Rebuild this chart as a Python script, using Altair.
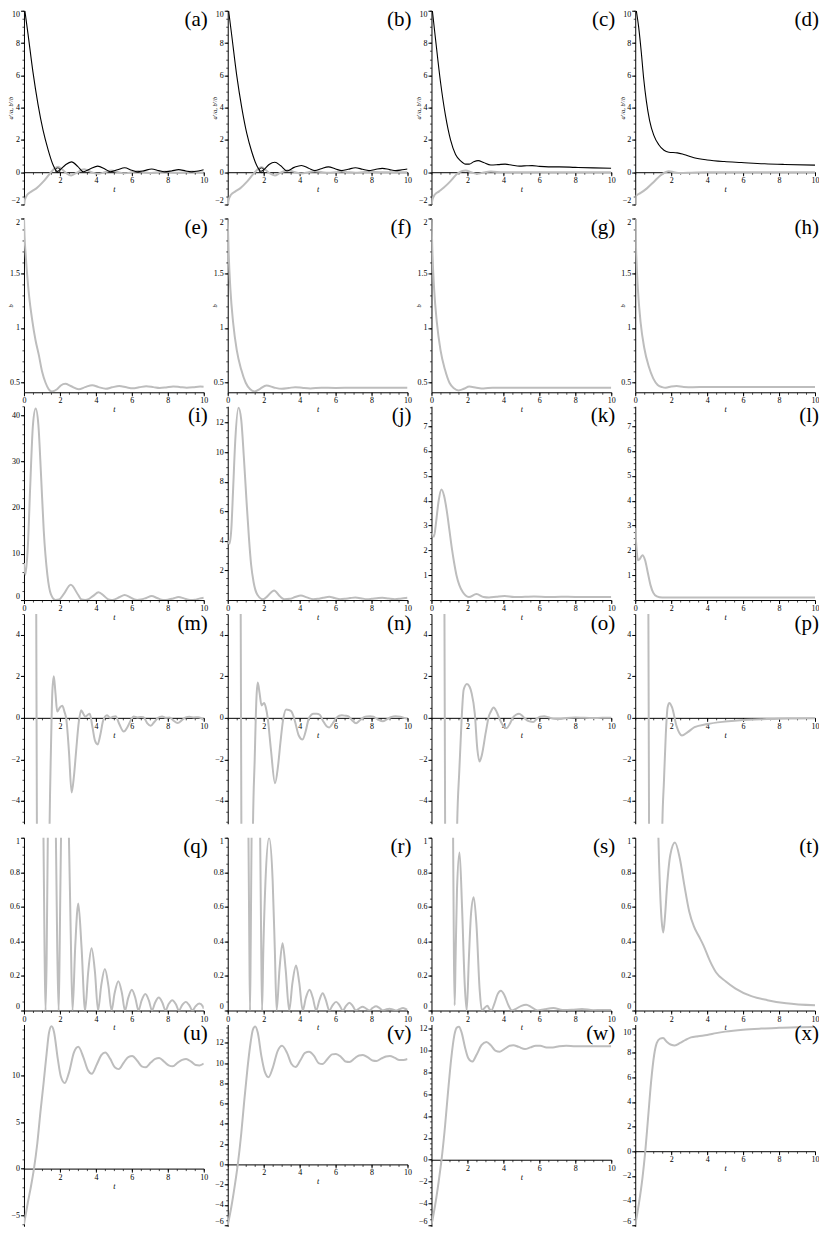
import altair as alt
import pandas as pd

# ---------------- data ----------------
# Row 1: a'/a (black) and b'/b (gray)
A_BLACK_T = [0.05,0.22,0.5,0.78,1.06,1.34,1.62,1.85,2.0,2.3,2.64,3.0,3.3,3.7,4.1,4.5,4.8,5.2,5.6,6.0,6.3,6.7,7.1,7.5,7.8,8.2,8.6,9.0,9.3,9.7,10.0]
A_BLACK_V = [10.0,8.6,6.2,4.2,2.6,1.4,0.45,0.05,0.15,0.45,0.64,0.35,0.03,0.22,0.38,0.2,0.03,0.15,0.28,0.12,0.03,0.1,0.2,0.1,0.03,0.08,0.16,0.08,0.03,0.08,0.15]
A_GRAY_T = [0.0,0.05,0.18,0.41,0.69,1.06,1.43,1.71,1.9,2.1,2.35,2.62,2.9,3.35,3.75,4.1,4.5,4.85,5.25,5.6,6.0,6.35,6.7,7.1,7.5,7.85,8.2,8.6,9.0,9.35,9.7,10.0]
A_GRAY_V = [-2.2,-1.7,-1.4,-1.2,-1.0,-0.6,-0.1,0.24,0.34,0.2,-0.05,-0.2,-0.05,0.18,0.0,-0.1,0.0,0.1,0.0,-0.07,0.0,0.07,0.0,-0.05,0.0,0.05,0.0,-0.04,0.0,0.04,0.0,-0.02]
A_MARK_T = [1.88]
A_MARK_V = [0.12]

B_BLACK_T = [0.05,0.22,0.5,0.78,1.06,1.34,1.62,1.85,2.0,2.3,2.62,2.95,3.3,3.7,4.1,4.5,4.85,5.2,5.6,6.0,6.35,6.7,7.1,7.5,7.85,8.2,8.6,9.0,9.35,9.7,10.0]
B_BLACK_V = [10.0,8.5,6.0,4.0,2.4,1.25,0.4,0.06,0.15,0.48,0.62,0.4,0.08,0.3,0.42,0.25,0.1,0.22,0.33,0.2,0.1,0.18,0.28,0.18,0.1,0.17,0.24,0.16,0.1,0.15,0.2]
B_GRAY_T = [0.0,0.05,0.18,0.41,0.69,1.06,1.43,1.71,1.9,2.1,2.35,2.62,2.9,3.35,3.75,4.1,4.5,4.85,5.25,5.6,6.0,6.35,6.7,7.1,7.5,7.85,8.5,10.0]
B_GRAY_V = [-2.2,-1.7,-1.4,-1.2,-1.0,-0.6,-0.1,0.22,0.3,0.15,-0.08,-0.2,-0.05,0.12,0.0,-0.08,0.0,0.06,0.0,-0.04,0.0,0.04,0.0,-0.03,0.0,0.02,0.0,0.0]
B_MARK_T = [1.88]
B_MARK_V = [0.12]

C_BLACK_T = [0.05,0.22,0.5,0.78,1.06,1.34,1.62,1.9,2.1,2.35,2.6,2.9,3.3,3.7,4.1,4.5,4.9,5.3,5.6,6.0,6.5,7.1,8.0,9.0,10.0]
C_BLACK_V = [10.0,8.3,5.6,3.5,2.0,1.1,0.7,0.5,0.5,0.65,0.72,0.6,0.45,0.47,0.5,0.43,0.38,0.4,0.41,0.36,0.33,0.33,0.3,0.27,0.25]
C_GRAY_T = [0.0,0.05,0.18,0.41,0.69,1.06,1.43,1.71,1.9,2.2,2.55,2.9,3.3,4.0,5.0,10.0]
C_GRAY_V = [-2.2,-1.7,-1.4,-1.2,-0.95,-0.55,-0.1,0.08,0.1,0.0,-0.1,-0.02,0.04,0.0,0.0,0.0]

D_BLACK_T = [0.06,0.19,0.34,0.47,0.62,0.8,1.03,1.31,1.6,1.87,2.34,2.7,3.27,4.0,4.95,5.9,7.2,8.3,10.0]
D_BLACK_V = [10.0,9.0,7.4,5.8,4.4,3.2,2.3,1.7,1.36,1.24,1.2,1.1,0.9,0.76,0.66,0.6,0.52,0.48,0.44]
D_GRAY_T = [0.0,0.06,0.28,0.65,1.03,1.4,1.68,1.87,2.15,2.5,3.1,4.0,10.0]
D_GRAY_V = [-2.2,-1.45,-1.3,-1.0,-0.6,-0.2,0.0,0.06,0.0,-0.05,-0.03,0.0,0.0]

# Row 2: b
E_T = [0,0.03,0.09,0.18,0.28,0.46,0.64,0.83,1.01,1.2,1.38,1.55,1.84,2.05,2.3,2.6,3.05,3.4,3.8,4.15,4.55,4.9,5.3,5.7,6.05,6.4,6.8,7.2,7.55,7.9,8.3,8.7,9.05,9.4,9.8,10.0]
E_V = [2.02,1.85,1.68,1.48,1.3,1.07,0.89,0.75,0.6,0.5,0.44,0.42,0.44,0.475,0.49,0.47,0.44,0.46,0.478,0.46,0.445,0.458,0.47,0.458,0.45,0.458,0.468,0.46,0.452,0.457,0.466,0.46,0.455,0.458,0.465,0.463]
F_T = [0,0.05,0.15,0.3,0.5,0.75,1.0,1.25,1.5,1.8,2.15,2.6,3.0,3.4,3.75,4.2,4.6,5.2,6.0,7.0,8.0,9.0,10.0]
F_V = [2.0,1.7,1.35,1.05,0.8,0.62,0.5,0.44,0.42,0.445,0.475,0.455,0.445,0.452,0.46,0.452,0.448,0.455,0.452,0.455,0.455,0.455,0.455]
G_T = [0,0.05,0.15,0.3,0.5,0.75,1.0,1.25,1.5,1.8,2.1,2.5,2.9,3.4,4.0,5.0,6.0,8.0,10.0]
G_V = [2.0,1.7,1.35,1.05,0.8,0.62,0.5,0.45,0.43,0.445,0.465,0.455,0.448,0.455,0.455,0.455,0.455,0.455,0.455]
H_T = [0,0.05,0.15,0.3,0.5,0.75,1.0,1.25,1.5,1.7,2.0,2.3,2.7,3.2,4.0,6.0,8.0,10.0]
H_V = [2.0,1.7,1.35,1.05,0.82,0.65,0.54,0.48,0.46,0.455,0.465,0.47,0.462,0.46,0.461,0.461,0.461,0.461]

# Row 3
I_T = [0,0.08,0.22,0.35,0.5,0.65,0.8,0.95,1.1,1.3,1.5,1.75,1.95,2.2,2.6,3.0,3.2,3.4,3.6,3.85,4.15,4.45,4.7,4.85,5.05,5.3,5.6,5.9,6.15,6.3,6.5,6.8,7.1,7.4,7.65,7.8,8.0,8.3,8.6,8.9,9.15,9.3,9.5,9.75,10.0]
I_V = [8.0,5.5,12.0,25.0,38.0,41.5,38.0,27.0,15.0,5.5,1.2,0.0,0.1,1.2,3.3,1.2,0.1,0.0,0.2,0.9,1.7,0.9,0.1,0.0,0.15,0.6,1.1,0.6,0.1,0.0,0.1,0.45,0.85,0.45,0.08,0.0,0.08,0.35,0.65,0.35,0.06,0.0,0.06,0.3,0.5]
J_T = [0,0.1,0.2,0.3,0.42,0.6,0.75,0.9,1.05,1.18,1.3,1.44,1.65,1.95,2.2,2.58,2.9,3.15,3.45,3.75,4.07,4.4,4.75,5.0,5.3,5.65,5.95,6.25,6.5,6.8,7.1,7.4,7.75,8.0,8.3,8.6,8.95,9.3,9.6,10.0]
J_V = [4.0,3.8,4.8,7.5,10.8,13.0,12.2,9.6,6.6,4.2,2.4,1.2,0.35,0.05,0.25,0.65,0.25,0.05,0.08,0.2,0.3,0.18,0.06,0.08,0.15,0.22,0.13,0.06,0.08,0.13,0.17,0.12,0.06,0.08,0.12,0.15,0.1,0.06,0.09,0.15]
K_T = [0,0.14,0.25,0.4,0.55,0.7,0.87,1.0,1.13,1.26,1.39,1.55,1.73,1.9,2.08,2.5,2.9,3.2,3.6,4.07,4.6,5.2,5.7,6.5,7.2,8.0,9.0,10.0]
K_V = [2.7,2.55,3.1,4.0,4.45,4.2,3.5,2.8,2.1,1.5,1.0,0.6,0.33,0.18,0.12,0.24,0.12,0.1,0.13,0.16,0.12,0.13,0.14,0.12,0.13,0.125,0.125,0.125]
L_T = [0,0.08,0.15,0.25,0.4,0.55,0.7,0.85,1.0,1.2,1.5,2.0,3.0,5.0,10.0]
L_V = [2.9,2.0,1.6,1.65,1.8,1.6,1.1,0.6,0.3,0.15,0.1,0.1,0.1,0.1,0.1]

# Row 4
M_T = [0,0.6,0.68,0.72,0.8,1.3,1.42,1.5,1.58,1.66,1.75,1.85,2.0,2.13,2.25,2.36,2.5,2.65,2.78,2.9,3.05,3.18,3.3,3.42,3.55,3.66,3.8,3.95,4.1,4.25,4.4,4.62,4.8,4.95,5.1,5.3,5.55,5.75,5.95,6.1,6.3,6.5,6.65,6.85,7.05,7.25,7.45,7.68,7.9,8.1,8.3,8.55,8.8,9.0,9.2,9.45,9.7,9.85,10.0]
M_V = [30,20,5.5,-5.5,-20,-20,-5.5,-1.5,1.3,2.0,1.2,0.3,0.5,0.58,0.3,-0.1,-1.6,-3.6,-2.8,-1.6,-0.2,0.36,0.2,0.05,0.15,0.2,-0.4,-1.1,-1.28,-0.8,-0.15,0.12,0.0,0.05,0.08,-0.3,-0.66,-0.45,-0.1,0.07,0.02,0.04,0.03,-0.25,-0.38,-0.2,0.0,0.07,0.0,0.02,-0.12,-0.25,-0.1,0.02,0.05,0.02,0.03,-0.02,-0.1]
N_T = [0,0.65,0.72,0.76,0.85,1.3,1.4,1.5,1.6,1.67,1.77,1.88,2.02,2.12,2.23,2.4,2.63,2.8,2.93,3.08,3.25,3.4,3.54,3.65,3.75,3.95,4.16,4.35,4.5,4.65,4.77,4.95,5.12,5.3,5.5,5.65,5.85,6.0,6.2,6.35,6.55,6.7,6.9,7.14,7.35,7.58,7.75,7.93,8.1,8.35,8.63,8.85,9.07,9.33,9.6,9.8,10.0]
N_V = [30,20,5.5,-5.5,-20,-20,-5.5,-2.0,1.0,1.7,1.2,0.6,0.72,0.5,-0.05,-1.5,-3.15,-2.3,-1.2,-0.1,0.4,0.38,0.31,0.1,-0.2,-0.85,-1.04,-0.6,-0.05,0.15,0.2,0.2,0.15,-0.15,-0.4,-0.46,-0.25,-0.05,0.1,0.12,0.1,0.08,-0.1,-0.26,-0.12,0.03,0.07,0.08,0.05,-0.08,-0.17,-0.07,0.03,0.08,0.05,0.0,-0.05]
O_T = [0,0.65,0.72,0.76,0.85,1.3,1.42,1.55,1.68,1.79,1.97,2.12,2.23,2.41,2.55,2.67,2.8,3.02,3.2,3.29,3.46,3.62,3.81,4.0,4.17,4.35,4.52,4.7,4.87,5.05,5.22,5.45,5.66,5.85,6.05,6.27,6.5,6.8,7.1,7.5,8.0,8.5,9.0,9.5,10.0]
O_V = [30,20,5.5,-5.5,-20,-20,-5.5,-2.5,0.0,1.35,1.63,1.5,1.2,0.2,-1.5,-2.1,-1.8,-0.7,0.1,0.28,0.5,0.3,-0.1,-0.4,-0.5,-0.3,0.0,0.15,0.2,0.1,-0.05,-0.17,-0.2,-0.05,0.05,0.08,0.03,-0.05,-0.06,-0.01,0.02,0.0,-0.01,0.0,0.0]
P_T = [0,0.65,0.73,0.77,0.85,1.35,1.5,1.6,1.7,1.8,1.9,2.05,2.3,2.6,2.9,3.3,4.0,5.0,6.0,7.0,8.0,9.0,10.0]
P_V = [30,20,5.5,-5.5,-20,-20,-5.5,-3.0,-0.8,0.5,0.72,0.5,-0.4,-0.85,-0.7,-0.45,-0.3,-0.18,-0.1,-0.07,-0.04,-0.03,-0.02]

# Row 5
Q_T = [0,1.0,1.08,1.15,1.2,1.26,1.33,1.45,1.55,1.67,1.77,1.86,1.93,1.99,2.06,2.3,2.5,2.6,2.7,2.85,3.02,3.2,3.4,3.57,3.76,3.95,4.12,4.29,4.5,4.7,4.87,5.04,5.25,5.45,5.62,5.79,6.0,6.2,6.37,6.54,6.75,6.95,7.12,7.29,7.5,7.7,7.87,8.04,8.25,8.45,8.62,8.79,9.0,9.2,9.37,9.54,9.75,9.95,10.0]
Q_V = [20,3.0,1.05,0.3,0.0,0.3,1.05,3.0,3.5,3.0,1.05,0.3,0.0,0.4,1.0,1.45,1.0,0.45,0.0,0.37,0.62,0.37,0.0,0.22,0.36,0.22,0.0,0.14,0.24,0.14,0.0,0.1,0.17,0.1,0.0,0.07,0.12,0.07,0.0,0.057,0.095,0.057,0.0,0.045,0.075,0.045,0.0,0.036,0.06,0.036,0.0,0.03,0.05,0.03,0.0,0.024,0.04,0.024,0.01]
R_T = [0,1.05,1.15,1.2,1.24,1.28,1.33,1.45,1.57,1.7,1.8,1.86,1.91,1.98,2.1,2.3,2.5,2.62,2.72,2.88,3.05,3.22,3.42,3.6,3.8,3.98,4.17,4.35,4.55,4.73,4.92,5.1,5.28,5.46,5.65,5.83,6.03,6.22,6.4,6.58,6.77,6.95,7.13,7.32,7.5,7.68,7.88,8.06,8.25,8.43,8.62,8.8,9.0,9.18,9.37,9.55,9.75,9.92,10.0]
R_V = [20,3.0,1.05,0.4,0.0,0.4,1.05,1.6,1.75,1.5,1.05,0.4,0.0,0.35,0.75,1.0,0.75,0.35,0.0,0.24,0.39,0.24,0.0,0.16,0.26,0.16,0.0,0.075,0.12,0.075,0.0,0.06,0.1,0.06,0.0,0.03,0.05,0.03,0.0,0.027,0.045,0.027,0.0,0.013,0.022,0.013,0.0,0.015,0.025,0.015,0.0,0.006,0.01,0.006,0.0,0.008,0.014,0.008,0.005]
S_T = [0,1.1,1.2,1.25,1.29,1.34,1.42,1.56,1.7,1.85,1.96,2.08,2.2,2.35,2.5,2.68,2.8,2.95,3.11,3.22,3.33,3.5,3.68,3.86,4.05,4.28,4.48,4.7,5.0,5.27,5.55,5.9,6.3,6.78,7.3,7.8,8.37,9.0,9.5,10.0]
S_V = [20,3.0,1.05,0.3,0.03,0.3,0.7,0.915,0.6,0.15,0.0,0.3,0.56,0.656,0.5,0.12,0.0,0.015,0.027,0.01,0.0,0.04,0.095,0.114,0.09,0.03,0.0,0.01,0.027,0.033,0.02,0.0,0.008,0.014,0.003,0.004,0.009,0.002,0.003,0.003]
TT_T = [0,1.2,1.29,1.38,1.47,1.56,1.66,1.77,1.95,2.21,2.48,2.74,3.0,3.27,3.54,3.8,4.16,4.5,5.04,5.58,6.46,7.35,8.4,10.0]
TT_V = [20,1.6,1.0,0.7,0.52,0.452,0.55,0.72,0.9,0.973,0.88,0.72,0.575,0.485,0.43,0.376,0.286,0.22,0.168,0.127,0.083,0.06,0.042,0.03]

# Row 6
U_T = [0,0.21,0.39,0.56,0.74,0.91,1.09,1.26,1.39,1.53,1.67,1.88,2.05,2.27,2.5,2.78,3.02,3.3,3.55,3.77,4.05,4.3,4.52,4.8,5.05,5.27,5.55,5.8,6.02,6.3,6.55,6.77,7.05,7.3,7.52,7.8,8.05,8.27,8.55,8.8,9.02,9.3,9.55,9.77,10.0]
U_V = [-6.0,-3.7,-1.9,0.05,2.7,6.0,9.2,12.4,14.6,15.3,14.7,11.8,9.9,9.2,10.3,12.5,13.1,12.0,10.6,10.2,11.2,12.2,12.5,11.8,10.9,10.7,11.4,12.0,12.1,11.6,11.0,10.9,11.4,11.8,11.9,11.5,11.1,11.0,11.4,11.7,11.8,11.5,11.15,11.1,11.3]
V_T = [0,0.2,0.4,0.56,0.75,0.92,1.1,1.27,1.4,1.53,1.67,1.88,2.05,2.27,2.5,2.78,3.02,3.3,3.55,3.77,4.05,4.3,4.52,4.8,5.05,5.27,5.55,5.8,6.02,6.3,6.55,6.77,7.05,7.3,7.52,7.8,8.05,8.27,8.55,8.8,9.02,9.3,9.55,9.77,10.0]
V_V = [-6.0,-4.2,-2.0,0.0,3.0,6.3,9.5,12.0,13.3,13.6,13.0,10.6,9.2,8.6,9.5,11.2,11.7,11.0,9.9,9.6,10.3,11.0,11.1,10.7,10.0,9.9,10.4,10.85,10.9,10.6,10.15,10.1,10.45,10.75,10.8,10.55,10.25,10.2,10.45,10.65,10.7,10.5,10.3,10.3,10.4]
W_T = [0,0.2,0.4,0.56,0.75,0.92,1.1,1.27,1.4,1.53,1.67,1.88,2.05,2.27,2.5,2.78,3.05,3.3,3.55,3.8,4.1,4.35,4.55,4.85,5.2,5.5,5.8,6.05,6.4,6.75,7.1,7.5,8.0,8.5,9.0,9.5,10.0]
W_V = [-6.0,-4.2,-2.0,0.0,3.0,6.2,9.3,11.4,12.1,12.2,11.7,10.2,9.3,9.0,9.6,10.5,10.8,10.5,10.0,9.9,10.2,10.45,10.5,10.35,10.15,10.3,10.45,10.45,10.3,10.3,10.4,10.45,10.4,10.4,10.4,10.4,10.4]
X_T = [0,0.2,0.4,0.56,0.72,0.88,1.05,1.2,1.38,1.55,1.75,2.0,2.2,2.5,2.8,3.1,3.5,4.0,4.5,5.0,6.0,7.0,8.0,9.0,10.0]
X_V = [-6.0,-4.3,-2.2,0.0,2.8,5.6,7.8,8.8,9.15,9.2,8.9,8.65,8.6,8.8,9.05,9.25,9.35,9.45,9.6,9.72,9.88,9.97,10.03,10.08,10.1]

# ---------------- styling ----------------
SERIF = "Liberation Serif"
GRAY = "#bdbdbd"
X_ALL = [0, 2, 4, 6, 8, 10]
X_NOZERO = [2, 4, 6, 8, 10]


def steps(lo, hi, step):
    n = int(round((hi - lo) / step))
    return [round(lo + k * step, 4) for k in range(n + 1)]


X_MINOR = steps(0, 10, 0.5)


def panel(label, lines, ydom, yticks, ystep, w, h, x_at_zero, ytitle=None, marks=None):
    ymin, ymax = ydom
    frames, names, colors, widths = [], [], [], []
    for k, (t, v, color, width) in enumerate(lines):
        frames.append(pd.DataFrame({"t": t, "v": v, "s": "s%d" % k}))
        names.append("s%d" % k)
        colors.append(color)
        widths.append(width)
    df = pd.concat(frames, ignore_index=True)

    xs = alt.Scale(domain=[0, 10], nice=False, zero=False)
    ys = alt.Scale(domain=[ymin, ymax], nice=False, zero=False)
    # distance that moves the t axis up from the bottom edge to the line v = 0
    xoff = -h * (0 - ymin) / (ymax - ymin) if x_at_zero else 0
    xax = dict(values=X_NOZERO if x_at_zero else X_ALL, orient="bottom", offset=xoff,
               format="~f", title="t", titleFont=SERIF, titleFontStyle="italic",
               titleFontWeight="normal", titleFontSize=8, titlePadding=1, labelFont=SERIF,
               labelFontSize=8, labelPadding=1, tickSize=3.5, domainColor="black",
               tickColor="black", labelColor="black", titleColor="black", grid=False,
               labelFlush=False, labelOverlap=False)
    yax = dict(values=yticks, orient="left", format="~f", labelFont=SERIF, labelFontSize=8,
               labelPadding=1, tickSize=3.5, domainColor="black", tickColor="black",
               labelColor="black", grid=False, labelFlush=4, labelOverlap=False)
    if ytitle:
        yax.update(title=ytitle, titleFont=SERIF, titleFontStyle="italic",
                   titleFontWeight="normal", titleFontSize=6.5, titleColor="black",
                   titleX=-10)
    else:
        yax.update(title=None)
    minor_common = dict(labels=False, domain=False, grid=False, tickSize=2, tickWidth=0.7,
                        tickColor="black", title=None)
    xminor = dict(values=X_MINOR, orient="bottom", offset=xoff, **minor_common)
    lo = ystep * int(ymin / ystep)
    yminor = dict(values=[v for v in steps(lo, ymax, ystep) if ymin <= v <= ymax],
                  orient="left", **minor_common)

    lines_layer = alt.Chart(df).mark_line(clip=True, interpolate="monotone").encode(
        x=alt.X("t:Q", scale=xs, axis=alt.Axis(**xax)),
        y=alt.Y("v:Q", scale=ys, axis=alt.Axis(**yax)),
        color=alt.Color("s:N", scale=alt.Scale(domain=names, range=colors), legend=None),
        strokeWidth=alt.StrokeWidth("s:N", scale=alt.Scale(domain=names, range=widths),
                                    legend=None),
    )
    minor_layer = alt.Chart(df).mark_line(clip=True, opacity=0).encode(
        x=alt.X("t:Q", scale=xs, axis=alt.Axis(**xminor)),
        y=alt.Y("v:Q", scale=ys, axis=alt.Axis(**yminor)),
        detail="s:N",
    )
    layers = [lines_layer, minor_layer]
    if marks is not None:
        layers.append(alt.Chart(marks).mark_point(shape="circle", filled=False, size=22,
                                                  color="black", strokeWidth=0.8, opacity=1)
                      .encode(x=alt.X("t:Q", scale=xs, axis=None),
                              y=alt.Y("v:Q", scale=ys, axis=None)))
    return alt.layer(*layers).resolve_axis(x="independent", y="independent").properties(
        width=w, height=h,
        title=alt.TitleParams(text=label, anchor="end", frame="group", orient="top",
                              offset=-20, dx=4, font=SERIF, fontSize=21,
                              fontWeight="normal", color="black"))


W = 180
H1, H2, H3, H4, H5, H6 = 194, 174, 194, 210, 173, 202
YT1 = [-2, 0, 2, 4, 6, 8, 10]
YT2 = [0.5, 1, 1.5, 2]
YT4 = [-4, -2, 0, 2, 4]
YT5 = [0, 0.2, 0.4, 0.6, 0.8, 1]
YT6 = [-6, -4, -2, 0, 2, 4, 6, 8, 10, 12]
R1T = "a'/a, b'/b"
D2 = (0.413, 2.0)

panels = [
    panel("(a)", [(A_GRAY_T, A_GRAY_V, GRAY, 2), (A_BLACK_T, A_BLACK_V, "black", 1.1)],
          (-2, 10), YT1, 0.5, W, H1, True, R1T, pd.DataFrame({"t": A_MARK_T, "v": A_MARK_V})),
    panel("(b)", [(B_GRAY_T, B_GRAY_V, GRAY, 2), (B_BLACK_T, B_BLACK_V, "black", 1.1)],
          (-2, 10), YT1, 0.5, W, H1, True, R1T, pd.DataFrame({"t": B_MARK_T, "v": B_MARK_V})),
    panel("(c)", [(C_GRAY_T, C_GRAY_V, GRAY, 2), (C_BLACK_T, C_BLACK_V, "black", 1.1)],
          (-2, 10), YT1, 0.5, W, H1, True, R1T),
    panel("(d)", [(D_GRAY_T, D_GRAY_V, GRAY, 2), (D_BLACK_T, D_BLACK_V, "black", 1.1)],
          (-2, 10), YT1, 0.5, W, H1, True, R1T),

    panel("(e)", [(E_T, E_V, GRAY, 2)], D2, YT2, 0.1, W, H2, False, "b"),
    panel("(f)", [(F_T, F_V, GRAY, 2)], D2, YT2, 0.1, W, H2, False, "b"),
    panel("(g)", [(G_T, G_V, GRAY, 2)], D2, YT2, 0.1, W, H2, False, "b"),
    panel("(h)", [(H_T, H_V, GRAY, 2)], D2, YT2, 0.1, W, H2, False, "b"),

    panel("(i)", [(I_T, I_V, GRAY, 2)], (0, 42), [0, 10, 20, 30, 40], 2, W, H3, False),
    panel("(j)", [(J_T, J_V, GRAY, 2)], (0, 13.1), [2, 4, 6, 8, 10, 12], 0.5, W, H3, False),
    panel("(k)", [(K_T, K_V, GRAY, 2)], (0, 7.8), [1, 2, 3, 4, 5, 6, 7], 0.25, W, H3, False),
    panel("(l)", [(L_T, L_V, GRAY, 2)], (0, 7.8), [1, 2, 3, 4, 5, 6, 7], 0.25, W, H3, False),

    panel("(m)", [(M_T, M_V, GRAY, 2)], (-5.1, 5), YT4, 0.5, W, H4, True),
    panel("(n)", [(N_T, N_V, GRAY, 2)], (-5.1, 5), YT4, 0.5, W, H4, True),
    panel("(o)", [(O_T, O_V, GRAY, 2)], (-5.1, 5), YT4, 0.5, W, H4, True),
    panel("(p)", [(P_T, P_V, GRAY, 2)], (-5.1, 5), YT4, 0.5, W, H4, True),

    panel("(q)", [(Q_T, Q_V, GRAY, 2)], (0, 1), YT5, 0.05, W, H5, False),
    panel("(r)", [(R_T, R_V, GRAY, 2)], (0, 1), YT5, 0.05, W, H5, False),
    panel("(s)", [(S_T, S_V, GRAY, 2)], (0, 1), YT5, 0.05, W, H5, False),
    panel("(t)", [(TT_T, TT_V, GRAY, 2)], (0, 1), YT5, 0.05, W, H5, False),

    panel("(u)", [(U_T, U_V, GRAY, 2)], (-6.2, 15.5), [-5, 0, 5, 10], 1, W, H6, True),
    panel("(v)", [(V_T, V_V, GRAY, 2)], (-6.1, 13.8), YT6, 0.5, W, H6, True),
    panel("(w)", [(W_T, W_V, GRAY, 2)], (-6.1, 12.4), YT6, 0.5, W, H6, True),
    panel("(x)", [(X_T, X_V, GRAY, 2)], (-6.1, 10.3), YT6[:-1], 0.5, W, H6, True),
]

chart = alt.concat(*panels, columns=4, spacing={"row": 14, "column": 24},
                   bounds="flush").configure_view(stroke=None).properties(
    padding={"left": 0, "top": 0, "right": 0, "bottom": 0})

chart.save("out.html", embed_options={"renderer": "svg", "actions": False})
